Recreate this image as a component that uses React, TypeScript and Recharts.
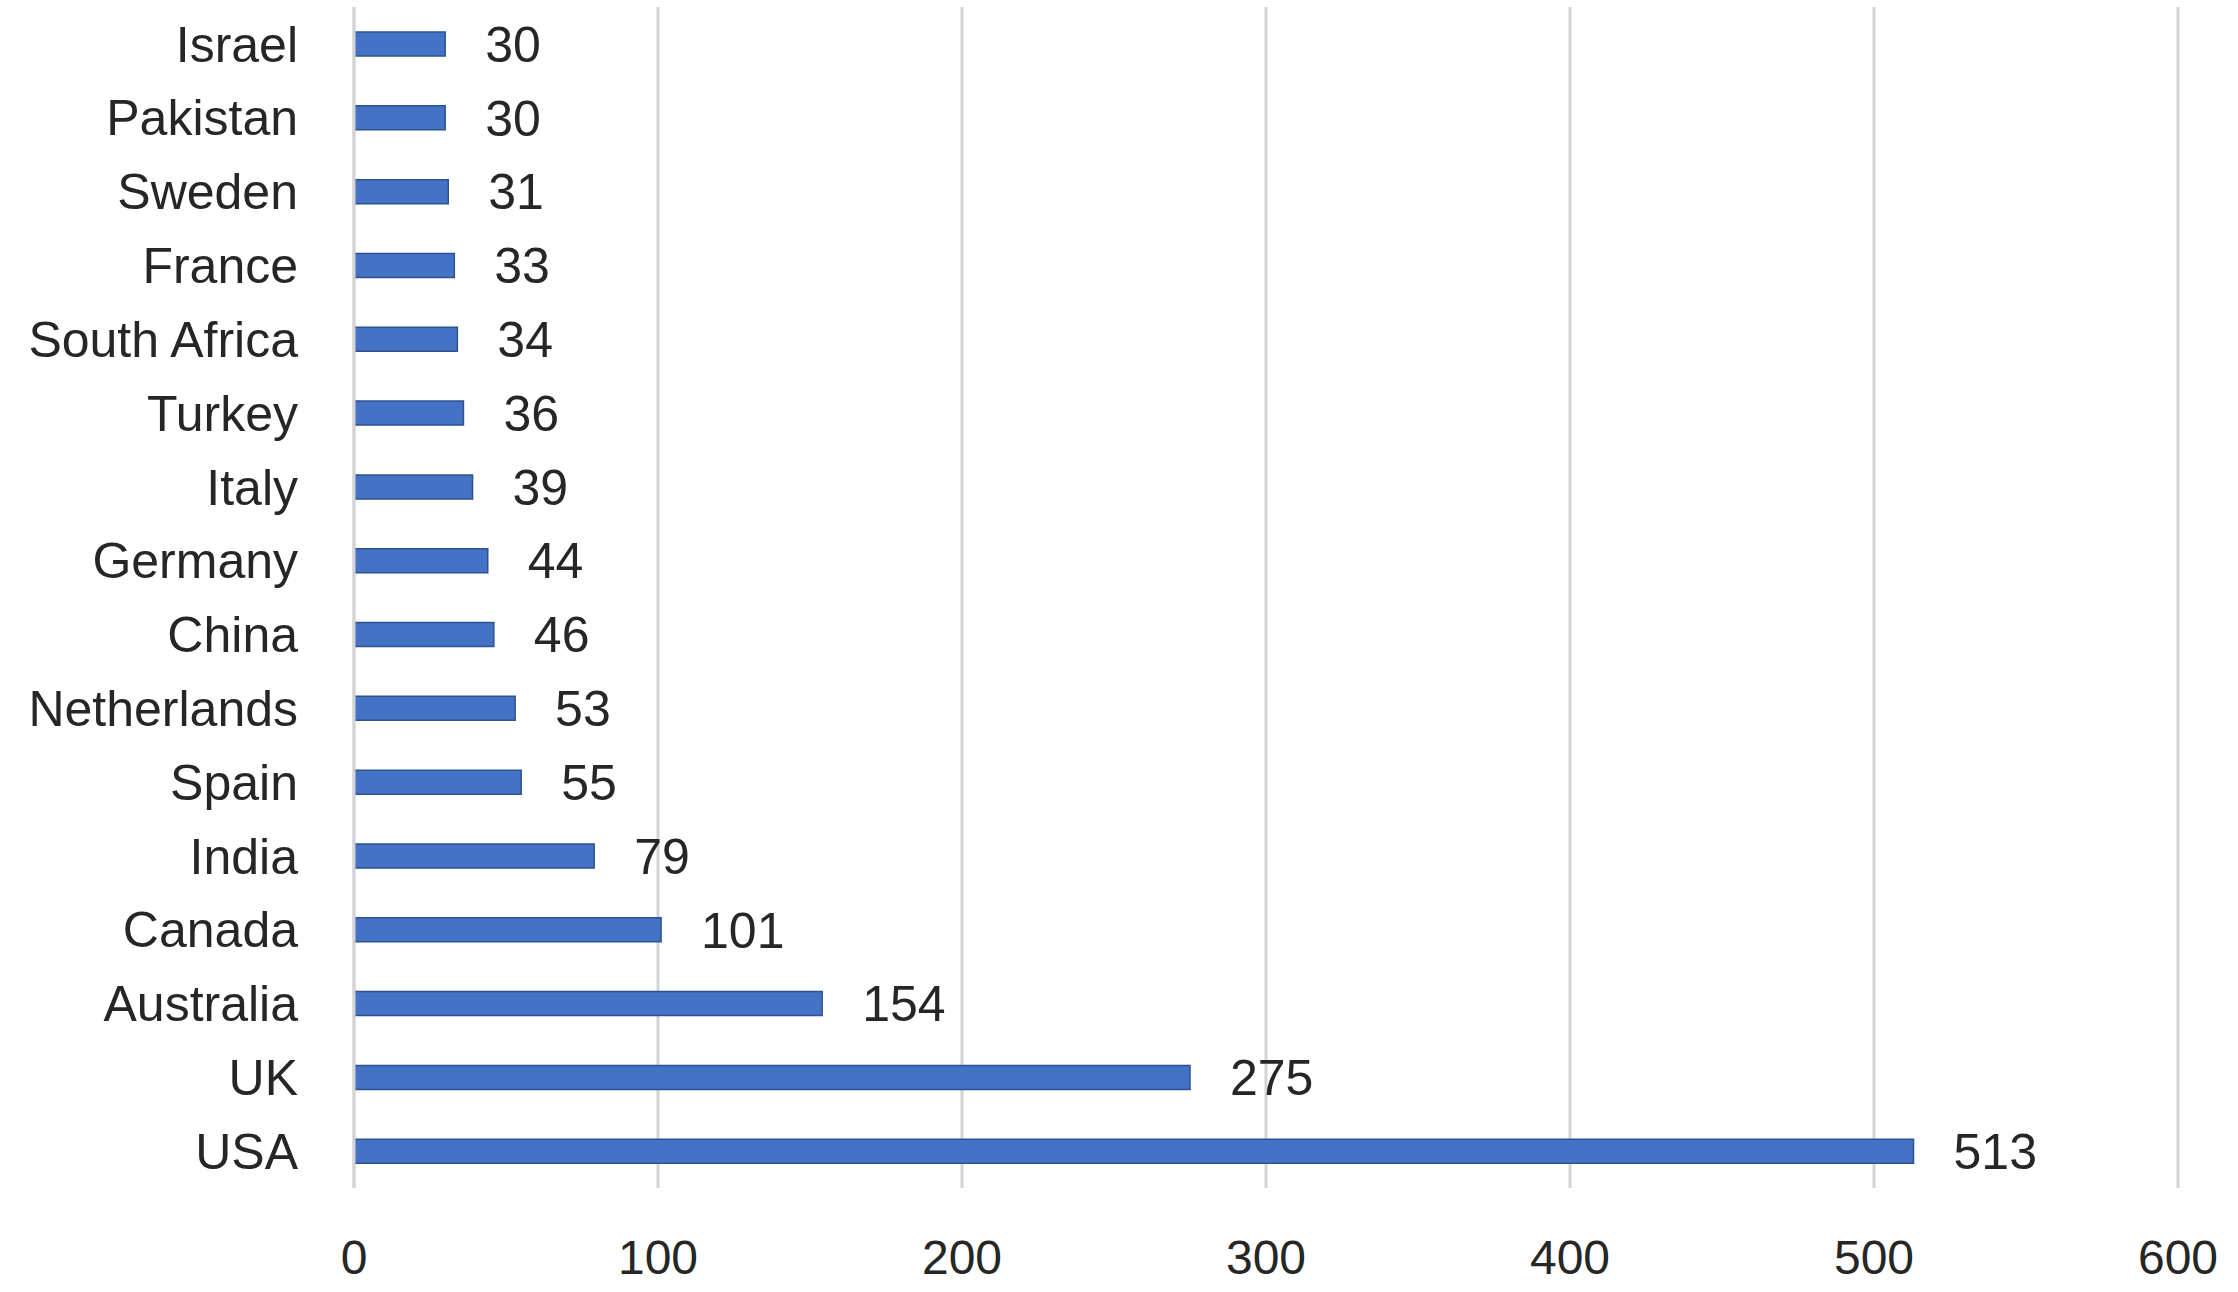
import React from "react"
import { BarChart, Bar, XAxis, YAxis, CartesianGrid, LabelList } from "recharts"

// countries listed top to bottom as in the chart
const countries = [
  "Israel",
  "Pakistan",
  "Sweden",
  "France",
  "South Africa",
  "Turkey",
  "Italy",
  "Germany",
  "China",
  "Netherlands",
  "Spain",
  "India",
  "Canada",
  "Australia",
  "UK",
  "USA",
]
const counts = [30, 30, 31, 33, 34, 36, 39, 44, 46, 53, 55, 79, 101, 154, 275, 513]
const xTicks = [0, 100, 200, 300, 400, 500, 600]

const data = countries.map((name, i) => ({ name, value: counts[i] }))

const font = "'Liberation Sans', Arial, sans-serif"
const textColor = "#262626"

export default function App() {
  return (
    <div style={{ position: "absolute", left: 0, top: 0, background: "#fff" }}>
      <BarChart
        width={2238}
        height={1292}
        data={data}
        layout="vertical"
        margin={{ top: 7, right: 60, left: 0, bottom: 0 }}
      >
        <CartesianGrid horizontal={false} stroke="#D4D4D4" strokeWidth={3} />
        <XAxis
          type="number"
          domain={[0, 600]}
          ticks={xTicks}
          axisLine={false}
          tickLine={false}
          tickSize={0}
          tickMargin={52}
          height={104}
          interval={0}
          tick={{ fill: textColor, fontSize: 48, fontFamily: font }}
        />
        <YAxis
          type="category"
          dataKey="name"
          width={354}
          axisLine={{ stroke: "#D4D4D4", strokeWidth: 3 }}
          tickLine={false}
          tickSize={0}
          tickMargin={56}
          interval={0}
          tick={{ fill: textColor, fontSize: 50, fontFamily: font }}
        />
        <Bar dataKey="value" fill="#4472C4" stroke="#2F528F" strokeWidth={1.5} barSize={24} isAnimationActive={false}>
          <LabelList
            dataKey="value"
            position="right"
            offset={40}
            fill={textColor}
            fontSize={50}
            fontFamily={font}
          />
        </Bar>
      </BarChart>
    </div>
  )
}
